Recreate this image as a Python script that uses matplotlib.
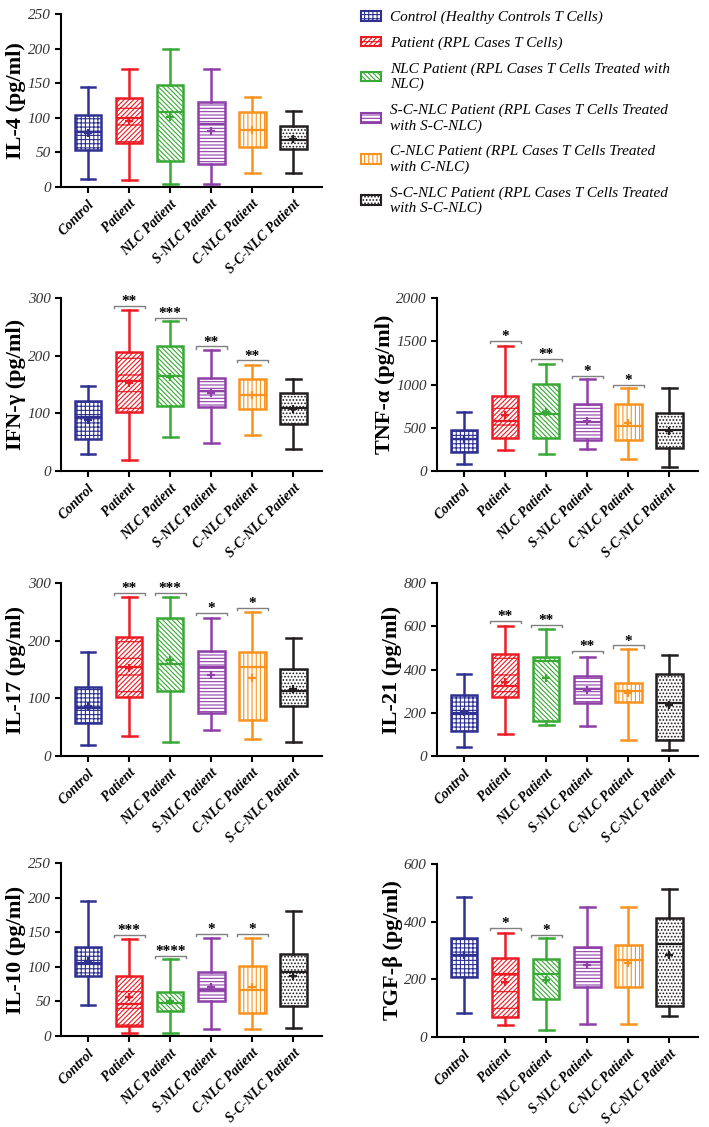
import matplotlib.pyplot as plt
from matplotlib.patches import Patch
import numpy as np

plt.rcParams['font.family'] = ['Liberation Serif', 'DejaVu Serif']
plt.rcParams['hatch.linewidth'] = 0.8

groups = ['Control', 'Patient', 'NLC Patient', 'S-NLC Patient', 'C-NLC Patient', 'S-C-NLC Patient']
colors = ['#2e3192', '#ed1c24', '#39a935', '#8e3fa8', '#f7931e', '#231f20']
hatches = ['++++', '///////-', '\\\\\\\\\\\\\\', '-----', '||||', '.....']
legend_labels = ['Control (Healthy Controls T Cells)',
                 'Patient (RPL Cases T Cells)',
                 'NLC Patient (RPL Cases T Cells Treated with\nNLC)',
                 'S-C-NLC Patient (RPL Cases T Cells Treated\nwith S-C-NLC)',
                 'C-NLC Patient (RPL Cases T Cells Treated\nwith C-NLC)',
                 'S-C-NLC Patient (RPL Cases T Cells Treated\nwith S-C-NLC)']

# IL-4
il4_lo = [11, 10, 5, 5, 20, 20]
il4_q1 = [53, 63, 37, 33, 58, 55]
il4_med = [79, 99, 108, 91, 83, 68]
il4_q3 = [104, 128, 148, 123, 108, 88]
il4_hi = [145, 170, 200, 170, 130, 110]
il4_mean = [78, 96, 101, 81, 83, 69]

# IFN-gamma
ifn_lo = [29, 19, 59, 49, 62, 39]
ifn_q1 = [55, 103, 112, 111, 108, 81]
ifn_med = [93, 156, 165, 138, 132, 109]
ifn_q3 = [122, 206, 216, 162, 160, 136]
ifn_hi = [148, 280, 260, 210, 184, 160]
ifn_mean = [89, 152, 163, 135, 132, 108]
ifn_sig_y = [286, 266, 216, 192]
ifn_sig = ['**', '***', '**', '**']

# TNF-alpha
tnf_lo = [77, 242, 196, 254, 142, 50]
tnf_q1 = [223, 377, 377, 358, 358, 262]
tnf_med = [365, 581, 654, 569, 523, 473]
tnf_q3 = [473, 865, 1004, 773, 773, 673]
tnf_hi = [677, 1442, 1242, 1058, 954, 954]
tnf_mean = [372, 646, 685, 577, 550, 465]
tnf_sig_y = [1504, 1296, 1104, 992]
tnf_sig = ['*', '**', '*', '*']

# IL-17
il17_lo = [19, 35, 24, 45, 30, 24]
il17_q1 = [57, 103, 113, 74, 63, 87]
il17_med = [84, 154, 160, 154, 154, 113]
il17_q3 = [119, 206, 240, 182, 181, 151]
il17_hi = [180, 275, 275, 240, 250, 205]
il17_mean = [87, 153, 166, 140, 136, 116]
il17_sig_y = [283, 283, 248, 257]
il17_sig = ['**', '***', '*', '*']

# IL-21
il21_lo = [43, 100, 144, 139, 73, 28]
il21_q1 = [116, 272, 162, 247, 249, 76]
il21_med = [198, 324, 437, 310, 301, 244]
il21_q3 = [283, 473, 456, 372, 338, 378]
il21_hi = [380, 601, 585, 460, 493, 469]
il21_mean = [202, 344, 360, 306, 290, 236]
il21_sig_y = [625, 608, 485, 511]
il21_sig = ['**', '**', '**', '*']

# IL-10
il10_lo = [45, 5, 5, 10, 10, 11]
il10_q1 = [87, 15, 36, 51, 33, 43]
il10_med = [105, 46, 48, 67, 67, 92]
il10_q3 = [128, 87, 63, 93, 101, 118]
il10_hi = [195, 140, 111, 142, 142, 181]
il10_mean = [109, 57, 51, 71, 71, 87]
il10_sig_y = [146, 116, 148, 148]
il10_sig = ['***', '****', '*', '*']

# TGF-beta
tgf_lo = [83, 40, 25, 46, 46, 72]
tgf_q1 = [208, 70, 133, 174, 174, 106]
tgf_med = [285, 220, 220, 260, 266, 321]
tgf_q3 = [345, 273, 269, 312, 320, 411]
tgf_hi = [486, 361, 342, 452, 452, 512]
tgf_mean = [283, 191, 197, 248, 255, 286]
tgf_sig_y = [378, 355]
tgf_sig = ['*', '*']

W, H = 709, 1127
fig = plt.figure(figsize=(W / 100, H / 100), dpi=100)


def panel(left, top_px, bottom_px, lo, q1, med, q3, hi, mean, ymax, step, ylabel, labx, sig_y=(), sig=()):
    ax = fig.add_axes([left / W, 1 - bottom_px / H, 261 / W, (bottom_px - top_px) / H])
    stats = []
    for i in range(6):
        stats.append(dict(label=groups[i], whislo=lo[i], q1=q1[i], med=med[i], q3=q3[i],
                          whishi=hi[i], mean=mean[i], fliers=[]))
    bp = ax.bxp(stats, positions=range(6), widths=0.65, capwidths=0.36, patch_artist=True,
                showmeans=True, showfliers=False)
    for i in range(6):
        c = colors[i]
        b = bp['boxes'][i]
        b.set_facecolor('white')
        b.set_edgecolor(c)
        b.set_hatch(hatches[i])
        b.set_linewidth(1.8)
        for ln in bp['whiskers'][2 * i:2 * i + 2] + bp['caps'][2 * i:2 * i + 2]:
            ln.set_color(c)
            ln.set_linewidth(1.8)
        bp['medians'][i].set_color(c)
        bp['medians'][i].set_linewidth(1.6)
        m = bp['means'][i]
        m.set_marker('+')
        m.set_markeredgecolor(c)
        m.set_markerfacecolor(c)
        m.set_markersize(6)
        m.set_markeredgewidth(1.6)
    for j, (y, t) in enumerate(zip(sig_y, sig)):
        p = j + 1
        d = ymax * 0.012
        ax.plot([p - 0.38, p - 0.38, p + 0.38, p + 0.38], [y - d, y, y, y - d], color='#808080', lw=1)
        ax.annotate(t, (p, y), xytext=(0, 0.5), textcoords='offset points', ha='center',
                    va='baseline', fontsize=11, fontweight='bold')
    ax.set_xlim(-0.66, 5.7)
    ax.set_ylim(0, ymax)
    ax.set_yticks(np.arange(0, ymax + 1, step))
    ax.spines[['top', 'right']].set_visible(False)
    ax.spines[['left', 'bottom']].set_linewidth(1.5)
    ax.tick_params(direction='out', length=4, width=1.5)
    ax.set_xticks(range(6))
    ax.set_xticklabels(groups, rotation=45, ha='right', rotation_mode='anchor',
                       fontweight='bold', fontstyle='italic', fontsize=10)
    for t in ax.get_yticklabels():
        t.set_fontstyle('italic')
        t.set_fontsize(11)
        t.set_color('#333333')
    ax.set_ylabel(ylabel, fontsize=16, fontweight='bold')
    ax.yaxis.set_label_coords(labx, 0.5)
    return ax


panel(61, 14, 187, il4_lo, il4_q1, il4_med, il4_q3, il4_hi, il4_mean, 250, 50, 'IL-4 (pg/ml)', -0.135)
panel(61, 298, 471, ifn_lo, ifn_q1, ifn_med, ifn_q3, ifn_hi, ifn_mean, 300, 100, 'IFN-γ (pg/ml)', -0.135,
      ifn_sig_y, ifn_sig)
panel(437, 298, 471, tnf_lo, tnf_q1, tnf_med, tnf_q3, tnf_hi, tnf_mean, 2000, 500, 'TNF-α (pg/ml)', -0.16,
      tnf_sig_y, tnf_sig)
panel(61, 583, 756, il17_lo, il17_q1, il17_med, il17_q3, il17_hi, il17_mean, 300, 100, 'IL-17 (pg/ml)', -0.135,
      il17_sig_y, il17_sig)
panel(437, 583, 756, il21_lo, il21_q1, il21_med, il21_q3, il21_hi, il21_mean, 800, 200, 'IL-21 (pg/ml)', -0.135,
      il21_sig_y, il21_sig)
panel(61, 863, 1036, il10_lo, il10_q1, il10_med, il10_q3, il10_hi, il10_mean, 250, 50, 'IL-10 (pg/ml)', -0.135,
      il10_sig_y, il10_sig)
panel(437, 864, 1037, tgf_lo, tgf_q1, tgf_med, tgf_q3, tgf_hi, tgf_mean, 600, 200, 'TGF-β (pg/ml)', -0.13,
      tgf_sig_y, tgf_sig)

handles = [Patch(facecolor='white', edgecolor=c, hatch=h, lw=1.5) for c, h in zip(colors, hatches)]
fig.legend(handles, legend_labels, loc='upper left', bbox_to_anchor=(361 / W, 1 - 11 / H), frameon=False,
           prop=dict(family='Liberation Serif', style='italic', size=11), handlelength=1.3, handleheight=0.6,
           handletextpad=0.6, labelspacing=0.8, borderpad=0, borderaxespad=0)

fig.savefig('out.png', dpi=100)
